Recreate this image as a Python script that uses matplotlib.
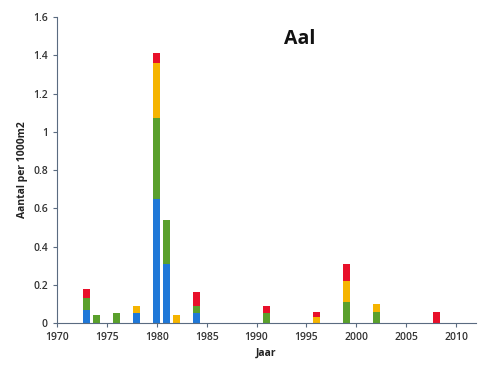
import numpy as np
import matplotlib.pyplot as plt

years = [1973, 1974, 1976, 1978, 1980, 1981, 1982, 1984, 1991, 1996, 1999, 2002, 2008]
blue = [0.07, 0.0, 0.0, 0.05, 0.65, 0.31, 0.0, 0.05, 0.0, 0.0, 0.0, 0.0, 0.0]
green = [0.06, 0.04, 0.05, 0.0, 0.42, 0.23, 0.0, 0.04, 0.05, 0.0, 0.11, 0.06, 0.0]
orange = [0.0, 0.0, 0.0, 0.04, 0.29, 0.0, 0.04, 0.0, 0.0, 0.03, 0.11, 0.04, 0.0]
red = [0.05, 0.0, 0.0, 0.0, 0.05, 0.0, 0.0, 0.07, 0.04, 0.03, 0.09, 0.0, 0.06]

series = [blue, green, orange, red]
colors = ['#1f78d8', '#5aa02c', '#f5b400', '#e8102a']

plt.rcParams['font.family'] = ['Open Sans', 'DejaVu Sans']

fig = plt.figure(figsize=(4.79, 3.65), dpi=100)
ax = fig.add_axes([0.119, 0.115, 0.875, 0.838])

bottom = np.zeros(len(years))
for vals, col in zip(series, colors):
    ax.bar(years, vals, width=0.7, bottom=bottom, color=col, linewidth=0)
    bottom += np.array(vals)

ax.set_xlim(1970, 2012)
ax.set_ylim(0, 1.6)
ax.set_xticks(range(1970, 2011, 5))
ax.set_yticks(np.arange(0, 1.61, 0.2))
ax.set_yticklabels(['0', '0.2', '0.4', '0.6', '0.8', '1', '1.2', '1.4', '1.6'])

for side in ['top', 'right']:
    ax.spines[side].set_visible(False)
for side in ['left', 'bottom']:
    ax.spines[side].set_color('#5a6b80')
    ax.spines[side].set_linewidth(0.8)
ax.tick_params(axis='both', colors='#5a6b80', labelcolor='#333333', labelsize=7.5,
               length=3, width=0.8)
for lab in ax.get_xticklabels() + ax.get_yticklabels():
    lab.set_fontweight('semibold')

ax.set_xlabel('Jaar', fontsize=7.5, fontweight='bold', color='#222222', labelpad=3)
ax.set_ylabel('Aantal per 1000m2', fontsize=7.5, fontweight='bold', color='#222222', labelpad=4)
ax.text(0.58, 0.96, 'Aal', transform=ax.transAxes, fontsize=14, fontweight='bold',
        ha='center', va='top', color='#111111')

fig.savefig('out.png', dpi=100)
